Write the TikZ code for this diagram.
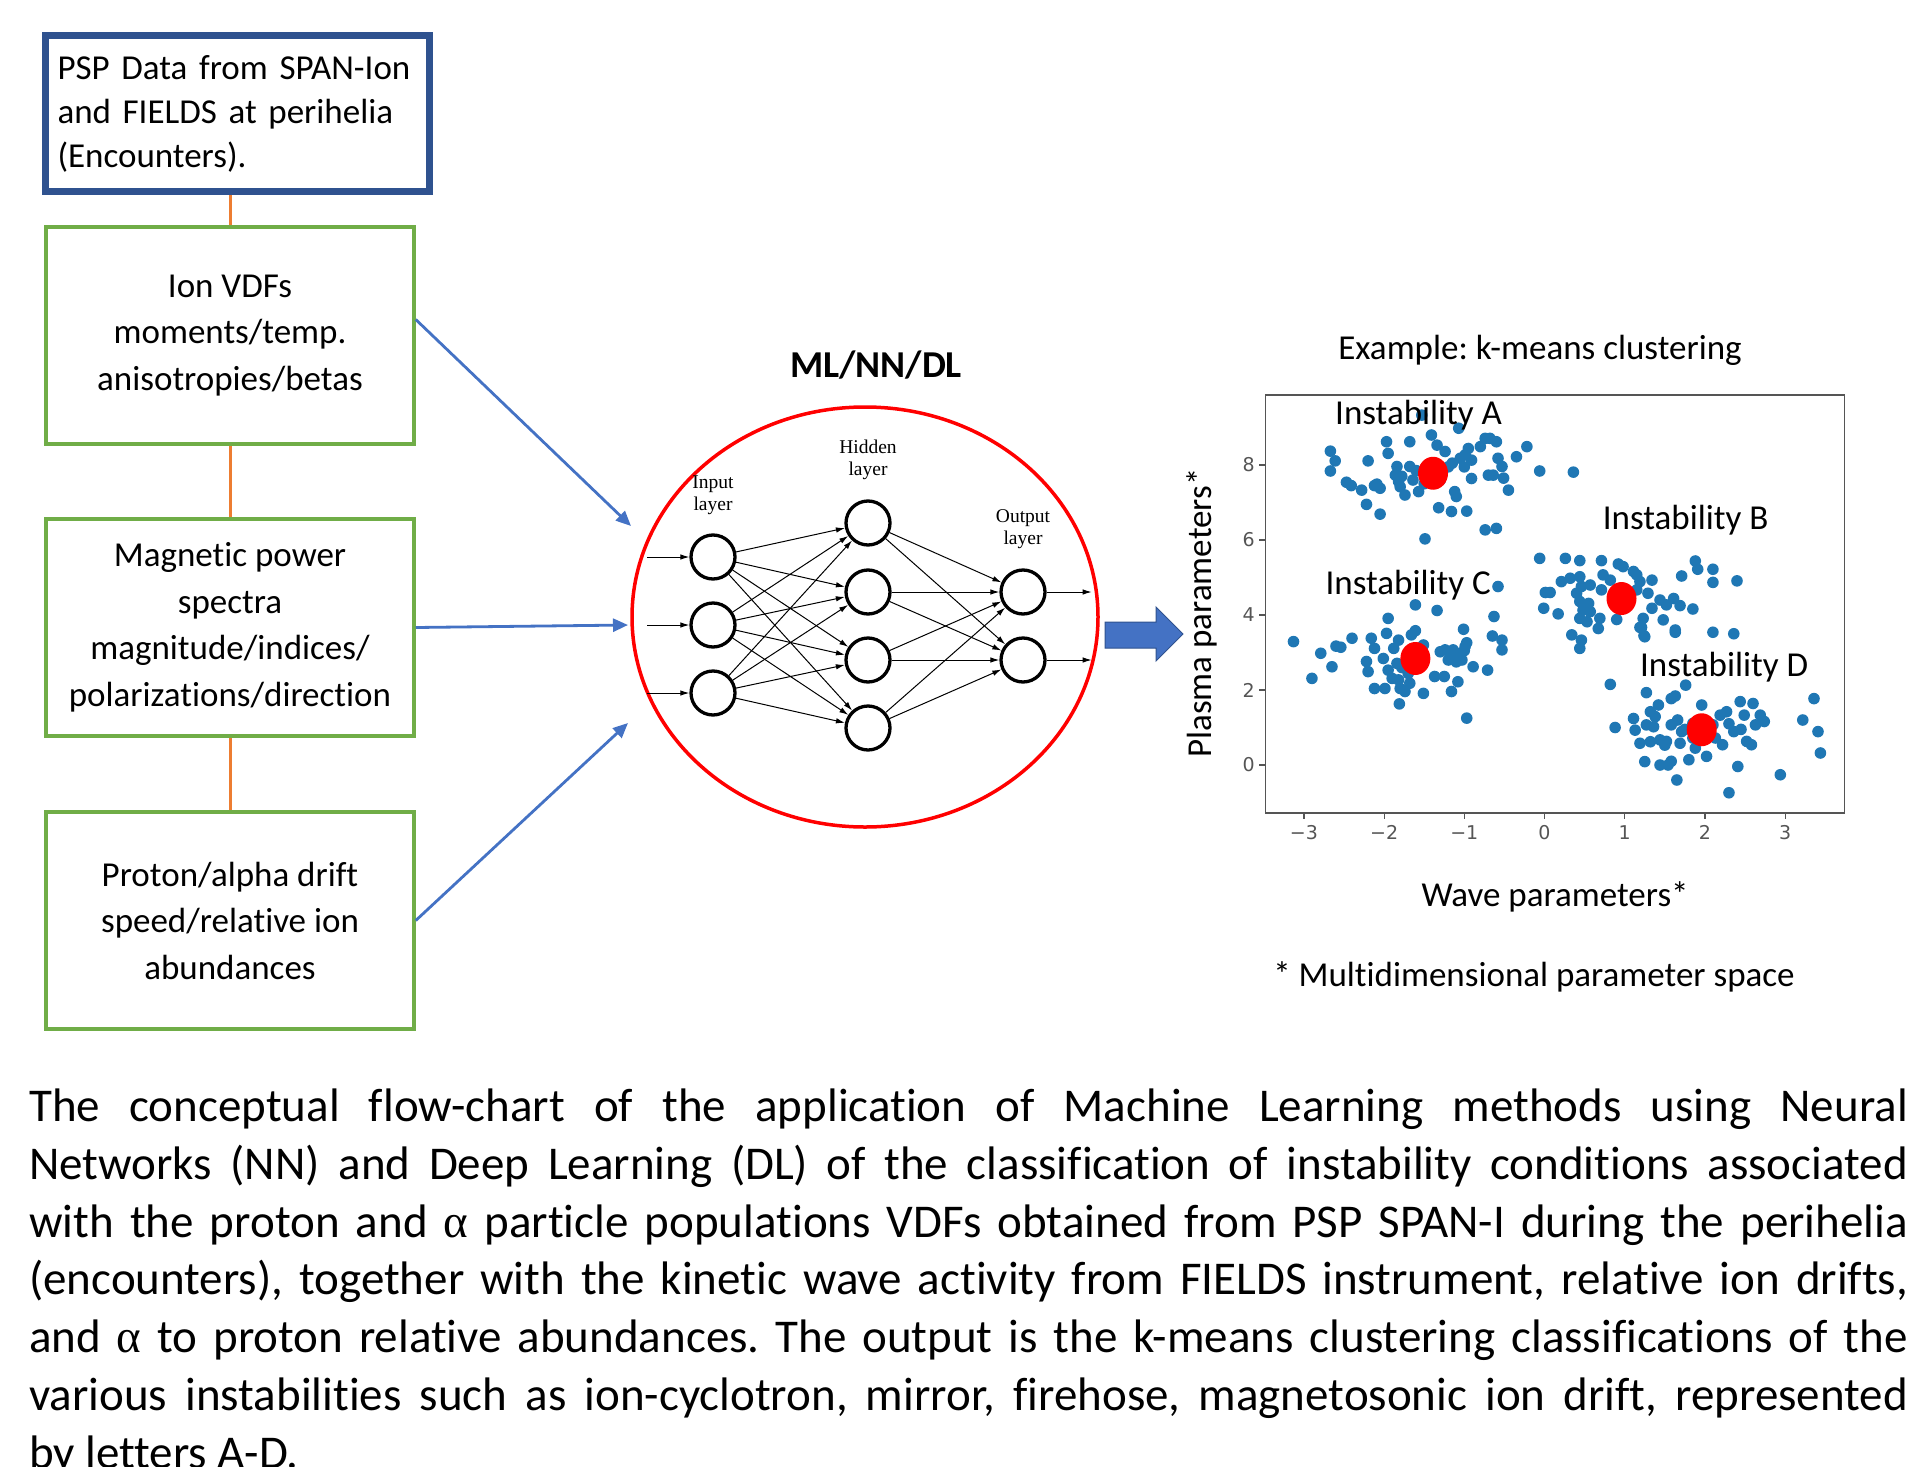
\documentclass[tikz,border=0pt]{standalone}
\usepackage{fontspec}
\setmainfont{Carlito}[Ligatures=NoCommon]
\newfontfamily\nnfont{Liberation Serif}
\newfontfamily\greekserif{Liberation Serif}
\newfontfamily\tickfont{DejaVu Sans}
\usetikzlibrary{arrows.meta,calc,positioning}

\definecolor{boxblue}{HTML}{2F528F}
\definecolor{boxgreen}{HTML}{70AD47}
\definecolor{linkorange}{HTML}{ED7D31}
\definecolor{flowblue}{HTML}{4472C4}
\definecolor{dotblue}{HTML}{1F77B4}
\definecolor{axisgray}{HTML}{555555}

\begin{document}
\frenchspacing
\begin{tikzpicture}[x=1pt, y=-1pt,
    bodytext/.style={font=\fontsize{35}{44}\selectfont},
    srcbox/.style={draw=boxblue, line width=7pt, minimum width=384pt, minimum height=156pt,
                   text width=360pt, align=left, inner sep=0pt, bodytext},
    databox/.style={draw=boxgreen, line width=3.5pt, minimum width=368pt, minimum height=217pt,
                    inner sep=0pt, align=center, font=\fontsize{35}{46.5}\selectfont},
    link/.style={linkorange, line width=3pt},
    flow/.style={-{Triangle[length=15pt,width=13pt]}, flowblue, line width=2.8pt},
    neuron/.style={circle, draw, line width=3.3pt, minimum size=44pt, inner sep=0pt},
    syn/.style={-{Latex[length=9pt,width=5.5pt]}, line width=1pt},
    nnlabel/.style={font=\nnfont\fontsize{19.5}{22}\selectfont, align=center, inner sep=0pt},
    ticklabel/.style={font=\tickfont\fontsize{19}{20}\selectfont, text=axisgray, inner sep=4pt},
    cluster/.style={font=\fontsize{35}{40}\selectfont, inner sep=0pt}]
  \useasboundingbox (0,0) rectangle (1918,1466);

  % input data boxes
  \node[srcbox] (src) at (237.5,113.5) {PSP Data from SPAN-Ion\\and FIELDS at perihelia\\(Encounters).};
  \node[databox] (ionbox) at (230,335.5) {Ion VDFs\\moments/temp.\\anisotropies/betas};
  \node[databox] (magbox) at (230,627.5) {Magnetic power\\spectra\\magnitude/indices/\\polarizations/direction};
  \node[databox] (driftbox) at (230,920.5) {Proton/alpha drift\\speed/relative ion\\abundances};
  \draw[link] (ionbox.north |- src.south) -- (ionbox.north);
  \draw[link] (ionbox.south) -- (magbox.north);
  \draw[link] (magbox.south) -- (driftbox.north);

  % arrows into the network
  \coordinate (feed1) at (631,526);
  \coordinate (feed2) at (628,625);
  \coordinate (feed3) at (628,723);
  \draw[flow] ([yshift=16pt]ionbox.east) -- (feed1);
  \draw[flow] (magbox.east) -- (feed2);
  \draw[flow] (driftbox.east) -- (feed3);

  % neural network
  \node[font=\bfseries\fontsize{38}{44}\selectfont] (nntitle) at (876,365) {ML/NN/DL};
  \draw[red, line width=3.5pt] (865,617) ellipse [x radius=233, y radius=210];
  \foreach \i/\y in {1/557,2/625,3/693}
    \node[neuron] (in\i) at (713,\y) {};
  \foreach \i/\y in {1/523,2/592,3/660,4/728}
    \node[neuron] (hid\i) at (868,\y) {};
  \foreach \i/\y in {1/592,2/660}
    \node[neuron] (out\i) at (1023,\y) {};
  \foreach \i in {1,2,3}
    \foreach \j in {1,...,4}
      \draw[syn] (in\i) -- (hid\j);
  \foreach \j in {1,...,4}
    \foreach \k in {1,2}
      \draw[syn] (hid\j) -- (out\k);
  \foreach \i in {1,2,3}
    \draw[syn] ([xshift=-42pt]in\i.west) -- (in\i);
  \foreach \k in {1,2}
    \draw[syn] (out\k) -- ([xshift=45pt]out\k.east);
  \node[nnlabel, above=18pt of in1] (inlabel) {Input\\layer};
  \node[nnlabel, above=19pt of hid1] (hidlabel) {Hidden\\layer};
  \node[nnlabel, above=19pt of out1] (outlabel) {Output\\layer};

  % block arrow to the clustering
  \fill[flowblue, draw=boxblue, line width=1pt] (1105,622) -- (1156,622) -- (1156,607) -- (1183,634)
    -- (1156,661) -- (1156,648) -- (1105,648) -- cycle;

  % k-means scatter plot
  \node[bodytext] (example) at (1540,350) {Example: k-means clustering};
  \node[bodytext, rotate=90] (ylab) at (1202,613) {Plasma parameters*};
  \node[bodytext] (xlab) at (1555,897) {Wave parameters*};
  \node[bodytext] (note) at (1534,977) {* Multidimensional parameter space};
  \begin{scope}[shift={(1544.5pt,-765pt)}, x=80.2pt, y=37.5pt]
    \foreach \xt/\xl in {-3/−3,-2/−2,-1/−1,0/0,1/1,2/2,3/3}
      \draw[axisgray, line width=1.2pt] (\xt,-1.28) -- ++(0,-6pt) node[below, ticklabel, yshift=-2pt] {\xl};
    \foreach \yt in {0,2,4,6,8}
      \draw[axisgray, line width=1.2pt] (-3.48,\yt) -- ++(-6pt,0) node[left, ticklabel] {\yt};
    % cluster A
    \foreach \px/\py in {-2.67/8.37,-2.61/8.11,-2.67/7.84,-2.47/7.54,-2.41/7.45,-2.28/7.33,-2.20/8.11,
        -2.22/6.95,-2.09/7.49,-2.05/7.38,-2.05/6.69,-1.97/8.62,-1.95/8.31,-1.84/7.96,-1.86/7.73,
        -1.82/7.56,-1.80/7.42,-1.74/7.20,-1.68/8.62,-1.68/7.96,-1.64/7.60,-1.57/7.29,-1.49/6.03,
        -1.53/9.33,-1.41/8.80,-1.34/8.53,-1.24/8.36,-1.32/6.86,-1.16/6.76,-1.12/7.29,-1.10/7.16,
        -1.07/8.98,-1.05/8.18,-0.99/8.27,-0.95/8.44,-0.91/8.13,-0.97/6.77,-0.91/7.64,-0.80/8.49,
        -0.74/8.71,-0.68/8.71,-0.60/8.62,-0.70/7.73,-0.64/7.73,-0.58/8.18,-0.53/7.96,-0.51/7.65,
        -0.45/7.33,-0.74/6.27,-0.60/6.31,-0.35/8.22,-0.22/8.49,-0.06/7.84,0.36/7.81,-1.78/7.70,
        -1.60/7.85,-1.50/7.50,-1.30/7.60,-1.20/7.95,-1.15/8.05,-1.00/7.95,-2.12/7.45}
      \fill[dotblue] (\px,\py) circle (5.8pt);
    % cluster B
    \foreach \px/\py in {-0.06/5.51,0.26/5.51,0.44/5.45,0.71/5.45,0.92/5.36,0.98/5.29,1.11/5.16,
        1.15/5.07,0.21/4.89,0.32/4.98,0.44/5.02,0.73/5.07,0.01/4.60,0.07/4.60,-0.01/4.18,0.17/4.03,
        0.40/4.58,0.46/4.76,0.57/4.80,0.44/4.36,0.55/4.31,0.48/4.13,0.57/4.09,0.44/3.91,0.53/3.82,
        0.69/3.91,0.67/3.64,0.71/4.67,0.82/4.93,0.34/3.47,0.46/3.33,0.44/3.11,0.90/3.88,1.15/4.67,
        1.19/4.89,1.23/3.91,1.19/3.67,1.25/3.42,1.34/4.93,1.29/4.58,1.34/4.18,1.44/4.40,1.52/4.27,
        1.48/3.87,1.61/4.44,1.63/3.60,1.69/4.25,1.85/4.16,1.71/5.04,1.88/5.44,1.91/5.22,2.10/5.22,
        2.10/4.87,2.40/4.91,1.63/3.54,2.10/3.54,2.36/3.50,1.21/3.67,1.24/3.45}
      \fill[dotblue] (\px,\py) circle (5.8pt);
    % cluster C
    \foreach \px/\py in {-3.13/3.29,-2.90/2.31,-2.79/2.98,-2.65/2.62,-2.60/3.17,-2.54/3.14,-2.40/3.38,
        -2.16/3.38,-2.12/3.11,-2.22/2.76,-2.20/2.49,-2.12/2.04,-2.01/2.84,-1.97/3.51,-1.95/3.91,
        -1.95/2.53,-1.90/2.31,-1.99/2.04,-1.88/3.11,-1.82/3.33,-1.84/2.71,-1.82/2.27,-1.80/2.04,
        -1.81/1.63,-1.74/1.96,-1.70/2.44,-1.68/2.18,-1.66/3.47,-1.61/3.58,-1.61/4.27,-1.51/3.20,
        -1.51/1.91,-1.37/2.36,-1.34/4.12,-1.25/2.36,-1.30/3.02,-1.24/3.07,-1.20/2.80,-1.16/1.96,
        -1.14/3.07,-1.08/2.22,-1.05/2.98,-1.03/2.80,-1.01/3.62,-0.99/3.16,-0.97/3.26,-0.97/1.25,
        -0.89/2.62,-0.71/2.53,-0.65/3.44,-0.63/3.96,-0.58/4.76,-0.53/3.33,-0.53/3.07,-1.15/2.95,
        -1.10/2.75,-1.00/3.05,-1.78/2.60,-1.70/2.80}
      \fill[dotblue] (\px,\py) circle (5.8pt);
    % cluster D
    \foreach \px/\py in {0.82/2.15,0.88/1.00,1.27/1.93,1.58/1.77,1.63/1.84,1.76/2.13,1.11/1.24,
        1.13/0.93,1.19/0.58,1.25/0.09,1.32/1.42,1.38/1.29,1.42/1.60,1.27/1.07,1.36/1.02,1.32/0.62,
        1.44/0.67,1.50/0.53,1.44/0.00,1.54/0.00,1.65/-0.40,1.52/0.63,1.58/1.07,1.58/0.10,1.69/0.58,
        1.71/0.89,1.80/0.14,1.85/1.11,1.88/0.45,1.96/1.60,2.02/0.23,2.10/1.07,2.19/1.33,2.27/1.42,
        2.30/-0.74,2.36/0.89,2.41/-0.04,2.44/1.69,2.49/1.33,2.52/0.63,2.58/0.54,2.60/1.64,2.63/1.07,
        2.69/1.33,2.74/1.16,2.94/-0.26,3.22/1.20,3.36/1.77,3.41/0.89,3.44/0.32,2.13/0.72,2.22/0.54,
        1.85/0.72,1.75/0.95,2.30/1.10,2.45/0.95,1.66/1.20}
      \fill[dotblue] (\px,\py) circle (5.8pt);
    % centroids
    \foreach \px/\py in {-1.39/7.78,0.96/4.44,-1.61/2.84,1.96/0.94}
      \fill[red] (\px,\py) ellipse [x radius=15pt, y radius=16.5pt];
    \node[cluster] (instA) at (-1.57,9.32) {Instability A};
    \node[cluster] (instB) at (1.76,6.54) {Instability B};
    \node[cluster] (instC) at (-1.70,4.80) {Instability C};
    \node[cluster] (instD) at (2.24,2.61) {Instability D};
    \draw[axisgray, line width=1.5pt] (-3.48,-1.28) rectangle (3.74,9.87);
  \end{scope}

  % caption
  \node[anchor=north west, text width=1879pt, inner sep=0pt, align=justify,
        font=\fontsize{47}{57.7}\selectfont] (caption) at (29,1089)
    {\hyphenpenalty=10000 \exhyphenpenalty=10000 \tolerance=10000
     The conceptual flow-chart of the application of Machine Learning methods using Neural\linebreak
     Networks (NN) and Deep Learning (DL) of the classification of instability conditions associated\linebreak
     with the proton and {\greekserif α} particle populations VDFs obtained from PSP SPAN-I during the perihelia\linebreak
     (encounters), together with the kinetic wave activity from FIELDS instrument, relative ion drifts,\linebreak
     and {\greekserif α} to proton relative abundances. The output is the k-means clustering classifications of the\linebreak
     various instabilities such as ion-cyclotron, mirror, firehose, magnetosonic ion drift, represented\linebreak
     by letters A-D.};
\end{tikzpicture}
\end{document}
